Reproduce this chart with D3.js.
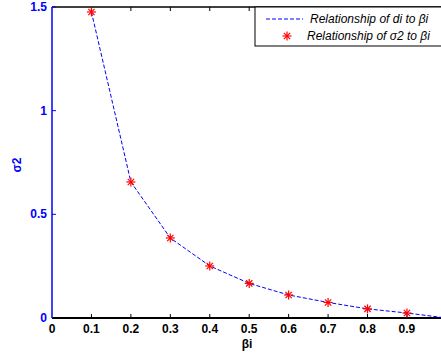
<!DOCTYPE html>
<html><head><meta charset="utf-8">
<script src="https://d3js.org/d3.v7.min.js"></script>
<style>body{margin:0;background:#fff}svg{display:block}text{font-family:"Liberation Sans",Arial,sans-serif}</style>
</head><body><svg id="c" width="441" height="353"></svg>
<script>
const betaLine = [0.1,0.2,0.3,0.4,0.5,0.6,0.7,0.8,0.9,1.0];
const diValues = [1.476,0.656,0.386,0.251,0.167,0.111,0.075,0.044,0.024,0.0];
const betaPts = [0.1,0.2,0.3,0.4,0.5,0.6,0.7,0.8,0.9];
const sigmaValues = [1.476,0.656,0.386,0.251,0.167,0.111,0.075,0.044,0.024];
const xTicks = [0,0.1,0.2,0.3,0.4,0.5,0.6,0.7,0.8,0.9];
const yTicks = [0,0.5,1,1.5];
const legendLabels = ["Relationship of di to βi","Relationship of σ2 to βi"];

const svg = d3.select("#c");
const L=52, R=446.4, T=7, B=318;
const x = d3.scaleLinear().domain([0,1]).range([L,R]);
const y = d3.scaleLinear().domain([0,1.5]).range([B,T]);

svg.append("line").attr("x1",L).attr("x2",R).attr("y1",T).attr("y2",T).attr("stroke","#000").attr("stroke-width",1.5);
svg.selectAll(".tt").data(xTicks.slice(1)).enter().append("line")
  .attr("x1",d=>x(d)).attr("x2",d=>x(d)).attr("y1",T).attr("y2",T+4).attr("stroke","#000");
svg.selectAll(".bt").data(xTicks.slice(1)).enter().append("line")
  .attr("x1",d=>x(d)).attr("x2",d=>x(d)).attr("y1",B).attr("y2",B-4).attr("stroke","#000");
svg.selectAll(".yt").data(yTicks).enter().append("line")
  .attr("x1",L).attr("x2",L+4).attr("y1",d=>y(d)).attr("y2",d=>y(d)).attr("stroke","#00f");
svg.append("line").attr("x1",L).attr("x2",R).attr("y1",B).attr("y2",B).attr("stroke","#000").attr("stroke-width",2);
svg.append("line").attr("x1",L).attr("x2",L).attr("y1",T).attr("y2",B).attr("stroke","#00f").attr("stroke-width",1.5);

svg.selectAll(".xl").data(xTicks).enter().append("text")
  .attr("x",d=>x(d)).attr("y",B+15).attr("text-anchor","middle")
  .attr("font-size",12).attr("font-weight","bold").attr("fill","#000").text(d=>d===0?"0":d3.format(".1f")(d));
svg.selectAll(".yl").data(yTicks).enter().append("text")
  .attr("x",L-5).attr("y",d=>y(d)+4).attr("text-anchor","end")
  .attr("font-size",12).attr("font-weight","bold").attr("fill","#00f").text(d=>String(d));
svg.append("text").attr("x",247).attr("y",348).attr("text-anchor","middle")
  .attr("font-size",12).attr("font-weight","bold").text("βi");
svg.append("text").attr("transform","translate(21,165) rotate(-90)").attr("text-anchor","middle")
  .attr("font-size",12).attr("font-weight","bold").attr("fill","#00f").text("σ2");

const line = d3.line().x((d,i)=>x(betaLine[i])).y(d=>y(d));
svg.append("path").datum(diValues).attr("d",line).attr("fill","none")
  .attr("stroke","#00f").attr("stroke-width",1).attr("stroke-dasharray","4,2");

function star(g,cx,cy,s){
  const p = g.append("g").attr("transform",`translate(${cx},${cy})`).attr("stroke","#f00").attr("stroke-width",1.2);
  p.append("line").attr("x1",-s).attr("x2",s).attr("y1",0).attr("y2",0);
  p.append("line").attr("x1",0).attr("x2",0).attr("y1",-s).attr("y2",s);
  const d=s*0.7;
  p.append("line").attr("x1",-d).attr("x2",d).attr("y1",-d).attr("y2",d);
  p.append("line").attr("x1",-d).attr("x2",d).attr("y1",d).attr("y2",-d);
}
sigmaValues.forEach((v,i)=>star(svg,x(betaPts[i]),y(v),4.5));

svg.append("rect").attr("x",255).attr("y",T).attr("width",190).attr("height",39)
  .attr("fill","#fff").attr("stroke","#000").attr("stroke-width",1);
svg.append("line").attr("x1",266).attr("x2",303).attr("y1",19).attr("y2",19)
  .attr("stroke","#00f").attr("stroke-dasharray","4,2");
star(svg,287,36,4.5);
svg.append("text").attr("x",310).attr("y",23).attr("font-size",12).attr("font-style","italic").text(legendLabels[0]);
svg.append("text").attr("x",307).attr("y",40).attr("font-size",12).attr("font-style","italic").text(legendLabels[1]);
</script></body></html>
